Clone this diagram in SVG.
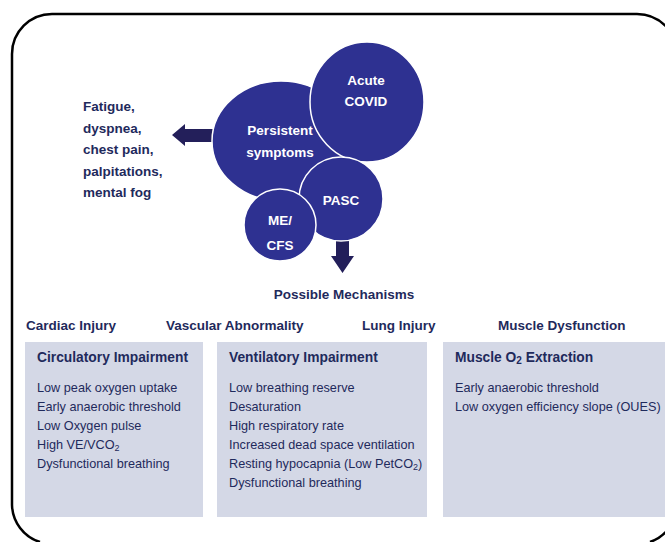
<svg xmlns="http://www.w3.org/2000/svg" width="665" height="542" viewBox="0 0 665 542">
  <style>
    .lbl { font-family: "Liberation Sans", Arial, sans-serif; font-weight: bold; fill: #1f2a5c; font-size: 13.5px; }
    .node-txt { font-family: "Liberation Sans", Arial, sans-serif; font-weight: bold; fill: #ffffff; font-size: 13.5px; text-anchor: middle; }
    .bubble { fill: #2e3191; stroke: #ffffff; stroke-width: 1.5; }
    .panel { fill: #d4d8e6; }
    .ptitle { font-family: "Liberation Sans", Arial, sans-serif; font-weight: bold; fill: #1f2a5c; font-size: 13.8px; }
    .item { font-family: "Liberation Sans", Arial, sans-serif; fill: #1f2a5c; font-size: 12.7px; }
    .arrow { fill: #231f5a; }
  </style>

  <rect width="665" height="542" fill="#ffffff"/>

  <!-- outer frame -->
  <path d="M 40 542 A 40 40 0 0 1 12 505 V 54 A 40 40 0 0 1 52 14 H 637 A 40 40 0 0 1 677 54 V 505 A 40 40 0 0 1 650 542" fill="none" stroke="#000000" stroke-width="2.5"/>

  <!-- connectors -->
  <g id="connectors">
    <polygon class="arrow" points="213,129 185,129 185,124 172,135 185,146 185,142 213,142"/>
    <polygon class="arrow" points="336,238 349,238 349,256 354,256 342.5,273 331,256 336,256"/>
  </g>

  <!-- bubbles -->
  <g id="persistent">
    <ellipse class="bubble" cx="281" cy="141" rx="69" ry="60"/>
    <text class="node-txt" x="280" y="135">Persistent</text>
    <text class="node-txt" x="280" y="157">symptoms</text>
  </g>
  <g id="acute-covid">
    <ellipse class="bubble" cx="367" cy="102" rx="57" ry="60"/>
    <text class="node-txt" x="366" y="85">Acute</text>
    <text class="node-txt" x="366" y="106">COVID</text>
  </g>
  <g id="pasc">
    <circle class="bubble" cx="341" cy="199" r="42"/>
    <text class="node-txt" x="341" y="205">PASC</text>
  </g>
  <g id="me-cfs">
    <circle class="bubble" cx="280" cy="225" r="36"/>
    <text class="node-txt" x="280" y="225">ME/</text>
    <text class="node-txt" x="280" y="250">CFS</text>
  </g>

  <!-- symptom list -->
  <g id="symptoms">
    <text class="lbl" x="83" y="111">Fatigue,</text>
    <text class="lbl" x="83" y="133">dyspnea,</text>
    <text class="lbl" x="83" y="154">chest pain,</text>
    <text class="lbl" x="83" y="176">palpitations,</text>
    <text class="lbl" x="83" y="197">mental fog</text>
  </g>

  <g id="mechanisms">
    <text class="lbl" x="344" y="299" text-anchor="middle">Possible Mechanisms</text>
  </g>

  <!-- category headings -->
  <g id="headings">
    <text class="lbl" x="26" y="330">Cardiac Injury</text>
    <text class="lbl" x="166" y="330">Vascular Abnormality</text>
    <text class="lbl" x="362" y="330">Lung Injury</text>
    <text class="lbl" x="498" y="330">Muscle Dysfunction</text>
  </g>

  <!-- panels -->
  <g id="circulatory">
    <rect class="panel" x="25" y="342" width="178" height="175"/>
    <text class="ptitle" x="37" y="362">Circulatory Impairment</text>
    <text class="item" x="37" y="392">Low peak oxygen uptake</text>
    <text class="item" x="37" y="411">Early anaerobic threshold</text>
    <text class="item" x="37" y="430">Low Oxygen pulse</text>
    <text class="item" x="37" y="449">High VE/VCO<tspan font-size="9" dy="2">2</tspan></text>
    <text class="item" x="37" y="468">Dysfunctional breathing</text>
  </g>

  <g id="ventilatory">
    <rect class="panel" x="217" y="342" width="210" height="175"/>
    <text class="ptitle" x="229" y="362">Ventilatory Impairment</text>
    <text class="item" x="229" y="392">Low breathing reserve</text>
    <text class="item" x="229" y="411">Desaturation</text>
    <text class="item" x="229" y="430">High respiratory rate</text>
    <text class="item" x="229" y="449">Increased dead space ventilation</text>
    <text class="item" x="229" y="468">Resting hypocapnia (Low PetCO<tspan font-size="9" dy="2">2</tspan><tspan dy="-2">)</tspan></text>
    <text class="item" x="229" y="487">Dysfunctional breathing</text>
  </g>

  <g id="muscle">
    <rect class="panel" x="443" y="342" width="222" height="175"/>
    <text class="ptitle" x="455" y="362">Muscle O<tspan font-size="10" dy="2">2</tspan><tspan dy="-2"> Extraction</tspan></text>
    <text class="item" x="455" y="392">Early anaerobic threshold</text>
    <text class="item" x="455" y="411">Low oxygen efficiency slope (OUES)</text>
  </g>
</svg>
